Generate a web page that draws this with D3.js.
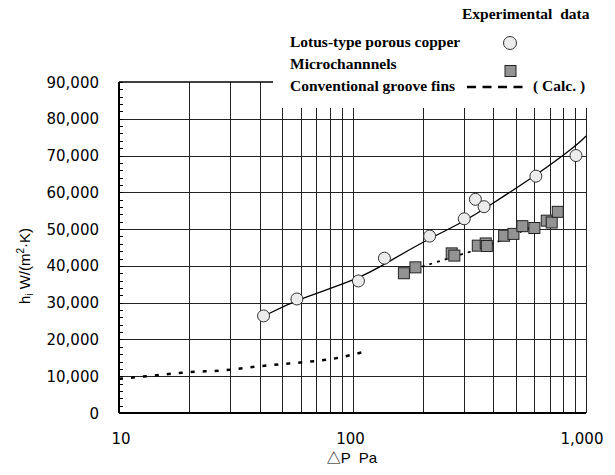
<!DOCTYPE html>
<html>
<head>
<meta charset="utf-8">
<script src="https://cdn.jsdelivr.net/npm/d3@7"></script>
<style>
  body { margin: 0; background: #fff; }
  svg { display: block; }
</style>
</head>
<body>
<svg></svg>
<script>
// Lotus-type porous copper (experimental)
const lotusP = [41.6, 57.8, 106, 137, 214, 301, 336, 366, 610, 906];
const lotusH = [26400, 31000, 35900, 42100, 48100, 52800, 58100, 56100, 64400, 70000];

// Lotus fit curve
const lotusFitP = [41.6, 57.8, 106, 145, 214, 300, 388, 610, 906, 1000];
const lotusFitH = [26300, 30900, 36300, 41400, 47500, 52000, 56500, 64600, 72600, 75300];

// Microchannels (experimental)
const microP = [166, 186, 266, 273, 344, 372, 376, 446, 489, 534, 601, 679, 713, 757];
const microH = [38000, 39600, 43400, 42800, 45500, 46100, 45400, 48200, 48700, 50800, 50300, 52300, 51800, 54700];

// Microchannels fit
const microFitP = [198, 300, 376, 500, 736];
const microFitH = [39800, 43300, 45300, 48600, 53600];

// Conventional groove fins (calc.)
const convP = [10, 13.6, 20, 28, 41, 61, 80, 110];
const convH = [9300, 10100, 11100, 11600, 12800, 13800, 14600, 16500];

const xGrid = [20, 30, 40, 50, 60, 70, 80, 90, 100, 200, 300, 400, 500, 600, 700, 800, 900, 1000];
const xTicks = [10, 100, 1000];
const yTicks = [0, 10000, 20000, 30000, 40000, 50000, 60000, 70000, 80000, 90000];

const margin = { top: 82, right: 29, bottom: 62, left: 119 };
const W = 615, H = 475;
const width = W - margin.left - margin.right;
const height = H - margin.top - margin.bottom;

const svg = d3.select("svg").attr("width", W).attr("height", H);
const g = svg.append("g").attr("transform", `translate(${margin.left},${margin.top})`);

const x = d3.scaleLog().domain([10, 1000]).range([0, width]);
const y = d3.scaleLinear().domain([0, 90000]).range([height, 0]);
const px = v => Math.round(x(v)) + 0.5;
const py = v => Math.round(y(v)) + 0.5;

const fmt = d3.format(",");
const sans = "DejaVu Sans, sans-serif";
const serif = "Liberation Serif, Times New Roman, serif";

// gridlines
g.append("g").selectAll("line").data(yTicks.slice(1, -1)).enter().append("line")
    .attr("x1", 0).attr("x2", width)
    .attr("y1", d => py(d)).attr("y2", d => py(d))
    .attr("stroke", "#222").attr("stroke-width", 1);

g.append("g").selectAll("line").data(xGrid).enter().append("line")
    .attr("x1", d => px(d)).attr("x2", d => px(d))
    .attr("y1", 0).attr("y2", height)
    .attr("stroke", "#222").attr("stroke-width", 1);

// minor y ticks on left axis
g.append("g").selectAll("line").data(d3.range(0, 90001, 2000)).enter().append("line")
    .attr("x1", 0).attr("x2", 4)
    .attr("y1", d => py(d)).attr("y2", d => py(d))
    .attr("stroke", "#000").attr("stroke-width", 1);

// frame
g.append("line").attr("x1", 0).attr("x2", width).attr("y1", 0).attr("y2", 0)
    .attr("stroke", "#000").attr("stroke-width", 1.5);
g.append("line").attr("x1", 0).attr("x2", 0).attr("y1", 0).attr("y2", height)
    .attr("stroke", "#000").attr("stroke-width", 2);
g.append("line").attr("x1", 0).attr("x2", width).attr("y1", height).attr("y2", height)
    .attr("stroke", "#000").attr("stroke-width", 2);

// tick labels
g.append("g").selectAll("text").data(yTicks).enter().append("text")
    .attr("x", -20).attr("y", d => y(d) + 5.5)
    .attr("text-anchor", "end")
    .attr("font-family", sans).attr("font-size", 15)
    .text(d => fmt(d));

g.append("g").selectAll("text").data(xTicks).enter().append("text")
    .attr("x", d => x(d) + (d === 1000 ? -4 : d === 100 ? -2 : 2))
    .attr("y", height + 31)
    .attr("text-anchor", "middle")
    .attr("font-family", sans).attr("font-size", 15)
    .text(d => fmt(d));

// axis titles
const xl = svg.append("text")
    .attr("x", 352).attr("y", 463)
    .attr("text-anchor", "middle")
    .attr("font-family", "Liberation Sans, Arial, sans-serif").attr("font-size", 15)
    .attr("xml:space", "preserve");
xl.append("tspan").attr("font-family", "Noto Sans CJK JP").attr("font-size", 14).text("\u25B3");
xl.append("tspan").text("P  Pa");

const yl = svg.append("text")
    .attr("transform", "translate(30,266) rotate(-90)")
    .attr("text-anchor", "middle")
    .attr("font-family", "Liberation Sans, Arial, sans-serif").attr("font-size", 15);
yl.append("tspan").text("h");
yl.append("tspan").attr("font-size", 10).attr("dy", 3).text("i");
yl.append("tspan").attr("dy", -3).text(" W/(m");
yl.append("tspan").attr("font-size", 10).attr("dy", -6).text("2");
yl.append("tspan").attr("dy", 6).text("\u00B7K)");

// curves
const line = d3.line().x(d => x(d[0])).y(d => y(d[1])).curve(d3.curveMonotoneX);
const smooth = d3.line().x(d => x(d[0])).y(d => y(d[1])).curve(d3.curveBasis);

g.append("path")
    .datum(d3.zip(convP, convH))
    .attr("d", line)
    .attr("fill", "none").attr("stroke", "#000").attr("stroke-width", 2.5)
    .attr("stroke-dasharray", "4,8");

g.append("path")
    .datum(d3.zip(lotusFitP, lotusFitH))
    .attr("d", smooth)
    .attr("fill", "none").attr("stroke", "#000").attr("stroke-width", 1.3);

g.append("path")
    .datum(d3.zip(microFitP, microFitH))
    .attr("d", smooth)
    .attr("fill", "none").attr("stroke", "#000").attr("stroke-width", 1.8)
    .attr("stroke-dasharray", "3,5");

// markers
g.append("g").selectAll("circle").data(d3.zip(lotusP, lotusH)).enter().append("circle")
    .attr("cx", d => x(d[0])).attr("cy", d => y(d[1])).attr("r", 6)
    .attr("fill", "#ececec").attr("stroke", "#333").attr("stroke-width", 1);

g.append("g").selectAll("rect").data(d3.zip(microP, microH)).enter().append("rect")
    .attr("x", d => x(d[0]) - 5.5).attr("y", d => y(d[1]) - 5.5)
    .attr("width", 11).attr("height", 11)
    .attr("fill", "#939393").attr("stroke", "#222").attr("stroke-width", 1);

// legend
svg.append("rect").attr("x", 273).attr("y", 0).attr("width", W - 273).attr("height", 108)
    .attr("fill", "#fff");

const leg = svg.append("g").attr("font-family", serif).attr("font-weight", "bold").attr("font-size", 15.5);
leg.append("text").attr("x", 462).attr("y", 19).attr("xml:space", "preserve").text("Experimental  data");
leg.append("text").attr("x", 290).attr("y", 47).text("Lotus-type porous copper");
leg.append("text").attr("x", 290).attr("y", 69).text("Microchannnels");
leg.append("text").attr("x", 290).attr("y", 91).text("Conventional groove fins");
leg.append("text").attr("x", 533).attr("y", 91).attr("xml:space", "preserve").text("( Calc. )");

svg.append("circle").attr("cx", 510).attr("cy", 43).attr("r", 6.5)
    .attr("fill", "#ececec").attr("stroke", "#333").attr("stroke-width", 1);
svg.append("rect").attr("x", 505).attr("y", 65.5).attr("width", 11).attr("height", 11)
    .attr("fill", "#939393").attr("stroke", "#222").attr("stroke-width", 1);
svg.append("line").attr("x1", 467).attr("x2", 529).attr("y1", 87).attr("y2", 87)
    .attr("stroke", "#000").attr("stroke-width", 2.5).attr("stroke-dasharray", "9,6.5");
</script>
</body>
</html>
